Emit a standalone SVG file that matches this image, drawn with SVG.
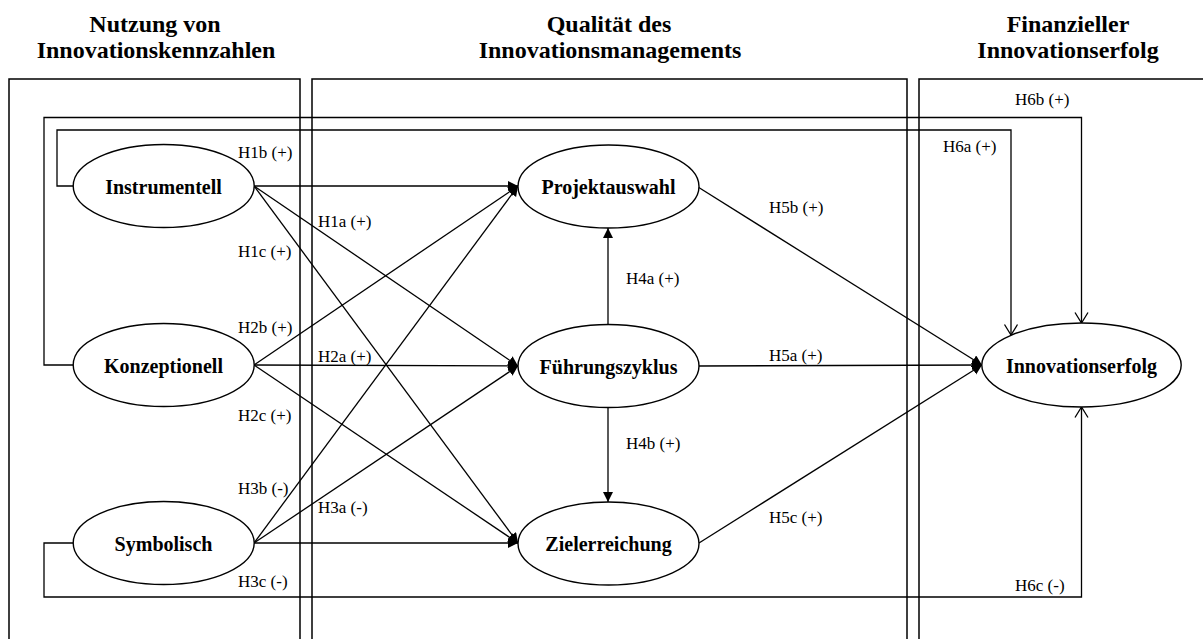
<svg xmlns="http://www.w3.org/2000/svg" width="1203" height="639" viewBox="0 0 1203 639">
  <style>
    .frame { fill: none; stroke: #000; stroke-width: 1.5; }
    .title { font-family: "Liberation Serif", "Times New Roman", serif; font-size: 24px; font-weight: bold; text-anchor: middle; fill: #000; }
    .node ellipse { fill: #fff; stroke: #000; stroke-width: 1.4; }
    .node text { font-family: "Liberation Serif", "Times New Roman", serif; font-size: 20px; font-weight: bold; text-anchor: middle; fill: #000; }
    .edge { fill: none; stroke: #000; stroke-width: 1.3; }
    .solid { marker-end: url(#arrow); }
    .open { marker-end: url(#openArrow); }
    .lbl { font-family: "Liberation Serif", "Times New Roman", serif; font-size: 17px; fill: #000; }
  </style>
  <defs>
    <marker id="arrow" markerUnits="userSpaceOnUse" markerWidth="11" markerHeight="11" refX="10" refY="5" orient="auto">
      <path d="M0,0 L10,5 L0,10 Z" fill="#000"/>
    </marker>
    <marker id="openArrow" markerUnits="userSpaceOnUse" markerWidth="12" markerHeight="15" refX="10.5" refY="6.5" orient="auto" overflow="visible">
      <path d="M0,0 L10.5,6.5 L0,13" fill="none" stroke="#000" stroke-width="1.3"/>
    </marker>
  </defs>

  <rect width="1203" height="639" fill="#fff"/>

  <!-- column frames (open at the bottom) -->
  <g id="frames">
    <path class="frame" d="M9,645 V79 H300 V645"/>
    <path class="frame" d="M312,645 V79 H907 V645"/>
    <path class="frame" d="M919,645 V79 H1215"/>
  </g>

  <!-- column headings -->
  <g id="headings">
    <text class="title" x="155" y="31.5">Nutzung von</text>
    <text class="title" x="156" y="58">Innovationskennzahlen</text>
    <text class="title" x="609" y="31.5">Qualität des</text>
    <text class="title" x="610" y="58">Innovationsmanagements</text>
    <text class="title" x="1068" y="31.5">Finanzieller</text>
    <text class="title" x="1068" y="58">Innovationserfolg</text>
  </g>

  <!-- connectors -->
  <g id="connectors">
    <!-- Instrumentell -->
    <line class="edge solid" x1="254" y1="186" x2="518" y2="186"/>
    <line class="edge solid" x1="254" y1="186" x2="518" y2="366"/>
    <line class="edge solid" x1="254" y1="186" x2="518" y2="543"/>
    <!-- Konzeptionell -->
    <line class="edge solid" x1="254" y1="365" x2="518" y2="186"/>
    <line class="edge solid" x1="254" y1="365" x2="518" y2="366"/>
    <line class="edge solid" x1="254" y1="365" x2="518" y2="543"/>
    <!-- Symbolisch -->
    <line class="edge solid" x1="254" y1="543" x2="518" y2="186"/>
    <line class="edge solid" x1="254" y1="543" x2="518" y2="366"/>
    <line class="edge solid" x1="254" y1="543" x2="518" y2="543"/>
    <!-- Führungszyklus to the other two quality nodes -->
    <line class="edge solid" x1="608" y1="325" x2="608" y2="228"/>
    <line class="edge solid" x1="608" y1="408" x2="608" y2="502"/>
    <!-- quality nodes to Innovationserfolg -->
    <line class="edge solid" x1="698" y1="187" x2="982" y2="365"/>
    <line class="edge solid" x1="698" y1="366" x2="982" y2="365"/>
    <line class="edge solid" x1="699" y1="543" x2="982" y2="365"/>
    <!-- direct paths to Innovationserfolg -->
    <polyline class="edge open" points="73,186 57,186 57,130 1011,130 1011,335"/>
    <polyline class="edge open" points="73,365 44,365 44,117.5 1081.5,117.5 1081.5,323"/>
    <polyline class="edge open" points="73,543 44,543 44,597 1081.5,597 1081.5,407"/>
  </g>

  <!-- hypothesis labels -->
  <g id="labels">
    <text class="lbl" x="238" y="158">H1b (+)</text>
    <text class="lbl" x="318" y="227">H1a (+)</text>
    <text class="lbl" x="238" y="257">H1c (+)</text>
    <text class="lbl" x="238" y="333">H2b (+)</text>
    <text class="lbl" x="318" y="362">H2a (+)</text>
    <text class="lbl" x="238" y="421">H2c (+)</text>
    <text class="lbl" x="238" y="494">H3b (-)</text>
    <text class="lbl" x="318" y="513">H3a (-)</text>
    <text class="lbl" x="238" y="587">H3c (-)</text>
    <text class="lbl" x="626" y="284">H4a (+)</text>
    <text class="lbl" x="626" y="449">H4b (+)</text>
    <text class="lbl" x="769" y="213">H5b (+)</text>
    <text class="lbl" x="769" y="361">H5a (+)</text>
    <text class="lbl" x="769" y="523">H5c (+)</text>
    <text class="lbl" x="1015" y="105">H6b (+)</text>
    <text class="lbl" x="943" y="152">H6a (+)</text>
    <text class="lbl" x="1015" y="591">H6c (-)</text>
  </g>

  <!-- nodes -->
  <g id="instrumentell" class="node">
    <ellipse cx="163.7" cy="186" rx="90.5" ry="41.5"/>
    <text x="163.5" y="193.5">Instrumentell</text>
  </g>
  <g id="konzeptionell" class="node">
    <ellipse cx="163.7" cy="365" rx="90.5" ry="41.5"/>
    <text x="163.5" y="372.5">Konzeptionell</text>
  </g>
  <g id="symbolisch" class="node">
    <ellipse cx="163.7" cy="543" rx="90.5" ry="41.5"/>
    <text x="163.5" y="550.5">Symbolisch</text>
  </g>
  <g id="projektauswahl" class="node">
    <ellipse cx="608.5" cy="186.5" rx="90.5" ry="41.5"/>
    <text x="608.5" y="194">Projektauswahl</text>
  </g>
  <g id="fuehrungszyklus" class="node">
    <ellipse cx="608.5" cy="366" rx="90.5" ry="41.5"/>
    <text x="608.5" y="373.5">Führungszyklus</text>
  </g>
  <g id="zielerreichung" class="node">
    <ellipse cx="608.5" cy="543.5" rx="90.5" ry="41.5"/>
    <text x="608.5" y="551">Zielerreichung</text>
  </g>
  <g id="innovationserfolg" class="node">
    <ellipse cx="1081.5" cy="365" rx="99.7" ry="42"/>
    <text x="1081.5" y="372.5">Innovationserfolg</text>
  </g>
</svg>
